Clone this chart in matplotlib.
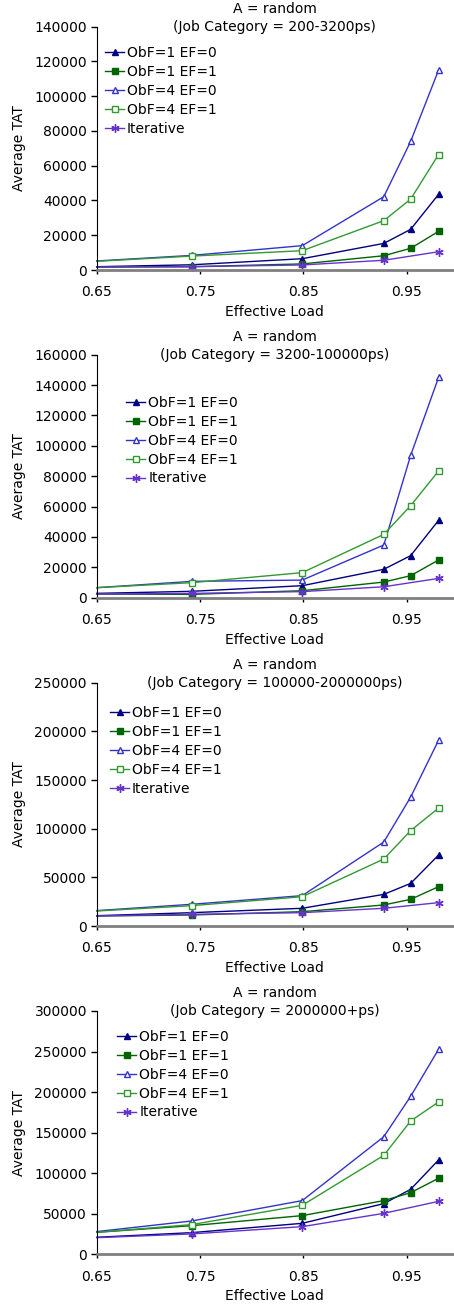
import matplotlib
matplotlib.use('Agg')
import matplotlib.pyplot as plt

# effective load points (iterative has no 0.954 point)
load = [0.65, 0.742, 0.849, 0.928, 0.954, 0.981]
load_iter = [0.65, 0.742, 0.849, 0.928, 0.981]

categories = ['200-3200ps', '3200-100000ps', '100000-2000000ps', '2000000+ps']
series_names = ['ObF=1 EF=0', 'ObF=1 EF=1', 'ObF=4 EF=0', 'ObF=4 EF=1', 'Iterative']

# panel 1: 200-3200ps
p1_obf1_ef0 = [1900, 3000, 6500, 15300, 23400, 43500]
p1_obf1_ef1 = [1700, 1900, 3500, 8200, 12500, 22200]
p1_obf4_ef0 = [5200, 8400, 14000, 42200, 74000, 115000]
p1_obf4_ef1 = [5000, 8000, 11100, 28400, 40800, 66400]
p1_iter = [1700, 1900, 2900, 5600, 10500]

# panel 2: 3200-100000ps
p2_obf1_ef0 = [2850, 4200, 7900, 18700, 27700, 50900]
p2_obf1_ef1 = [2400, 2200, 4600, 10300, 14500, 24800]
p2_obf4_ef0 = [6600, 10750, 11600, 34700, 93700, 145000]
p2_obf4_ef1 = [6600, 9900, 16500, 41700, 60600, 83400]
p2_iter = [2400, 2850, 4000, 7200, 12700]

# panel 3: 100000-2000000ps
p3_obf1_ef0 = [10600, 13700, 18200, 32500, 43800, 72900]
p3_obf1_ef1 = [10300, 11300, 14700, 21600, 27400, 40400]
p3_obf4_ef0 = [15800, 22300, 31200, 86300, 132500, 190800]
p3_obf4_ef1 = [15400, 20900, 30100, 68800, 98000, 121200]
p3_iter = [10300, 12000, 13700, 18200, 24000]

# panel 4: 2000000+ps
p4_obf1_ef0 = [21000, 26700, 38200, 62500, 80100, 116300]
p4_obf1_ef1 = [27100, 35300, 47700, 66200, 76000, 93700]
p4_obf4_ef0 = [28000, 41100, 66200, 145000, 194800, 252700]
p4_obf4_ef1 = [27100, 36600, 60400, 122000, 164400, 187800]
p4_iter = [20500, 25100, 34100, 50500, 65300]

panels = [
    [p1_obf1_ef0, p1_obf1_ef1, p1_obf4_ef0, p1_obf4_ef1, p1_iter],
    [p2_obf1_ef0, p2_obf1_ef1, p2_obf4_ef0, p2_obf4_ef1, p2_iter],
    [p3_obf1_ef0, p3_obf1_ef1, p3_obf4_ef0, p3_obf4_ef1, p3_iter],
    [p4_obf1_ef0, p4_obf1_ef1, p4_obf4_ef0, p4_obf4_ef1, p4_iter],
]
ymax = [140000, 160000, 250000, 300000]
ystep = [20000, 20000, 50000, 50000]

colors = ['#000080', '#006400', '#3333cc', '#339933', '#6633cc']
markers = ['^', 's', '^', 's', (6, 2, 0)]
faces = ['#000080', '#006400', 'white', 'white', '#6633cc']

W, H = 454, 1305
fig = plt.figure(figsize=(W / 100, H / 100), dpi=100)

# axes boxes in pixels: (top, bottom)
boxes = [(26.7, 270), (354.7, 597.7), (682.7, 926), (1011, 1254.3)]
left, right = 96.7, 453
legend_pos = [(0.023, 0.92), (0.082, 0.83), (0.037, 0.904), (0.057, 0.922)]

for i, cat in enumerate(categories):
    top, bot = boxes[i]
    ax = fig.add_axes([left / W, 1 - bot / H, (right - left) / W, (bot - top) / H])
    for j, name in enumerate(series_names):
        xs = load_iter if j == 4 else load
        ax.plot(xs, panels[i][j], color=colors[j], lw=1, marker=markers[j],
                ms=5 if j != 4 else 6, mfc=faces[j], mec=colors[j], mew=1,
                markevery=slice(1, None), label=name, clip_on=False)
    ax.set_xlim(0.65, 0.995)
    ax.set_ylim(0, ymax[i])
    ax.set_xticks([0.65, 0.75, 0.85, 0.95])
    ax.set_xticklabels(['0.65', '0.75', '0.85', '0.95'])
    ax.set_yticks(range(0, ymax[i] + 1, ystep[i]))
    ax.tick_params(labelsize=10, width=1)
    ax.tick_params(axis='y', length=4, pad=3)
    ax.tick_params(axis='x', length=3, pad=8)
    ax.spines['top'].set_visible(False)
    ax.spines['right'].set_visible(False)
    ax.spines['bottom'].set_color('#808080')
    ax.spines['bottom'].set_linewidth(2)
    ax.set_xlabel('Effective Load', fontsize=10, labelpad=4)
    ax.set_ylabel('Average TAT', fontsize=10, labelpad=6)
    # two-line title, second line sits level with the top of the axes
    ax.annotate('A = random', (0.5, 1.0), xycoords='axes fraction',
                xytext=(0, 13), textcoords='offset points',
                ha='center', va='center', fontsize=10)
    ax.annotate('(Job Category = %s)' % cat, (0.5, 1.0), xycoords='axes fraction',
                ha='center', va='center', fontsize=10)
    ax.legend(loc='upper left', bbox_to_anchor=legend_pos[i], frameon=False,
              fontsize=10, handlelength=1.4, handletextpad=0.2,
              labelspacing=0.35, borderpad=0, borderaxespad=0)

fig.savefig('out.png', dpi=100)
